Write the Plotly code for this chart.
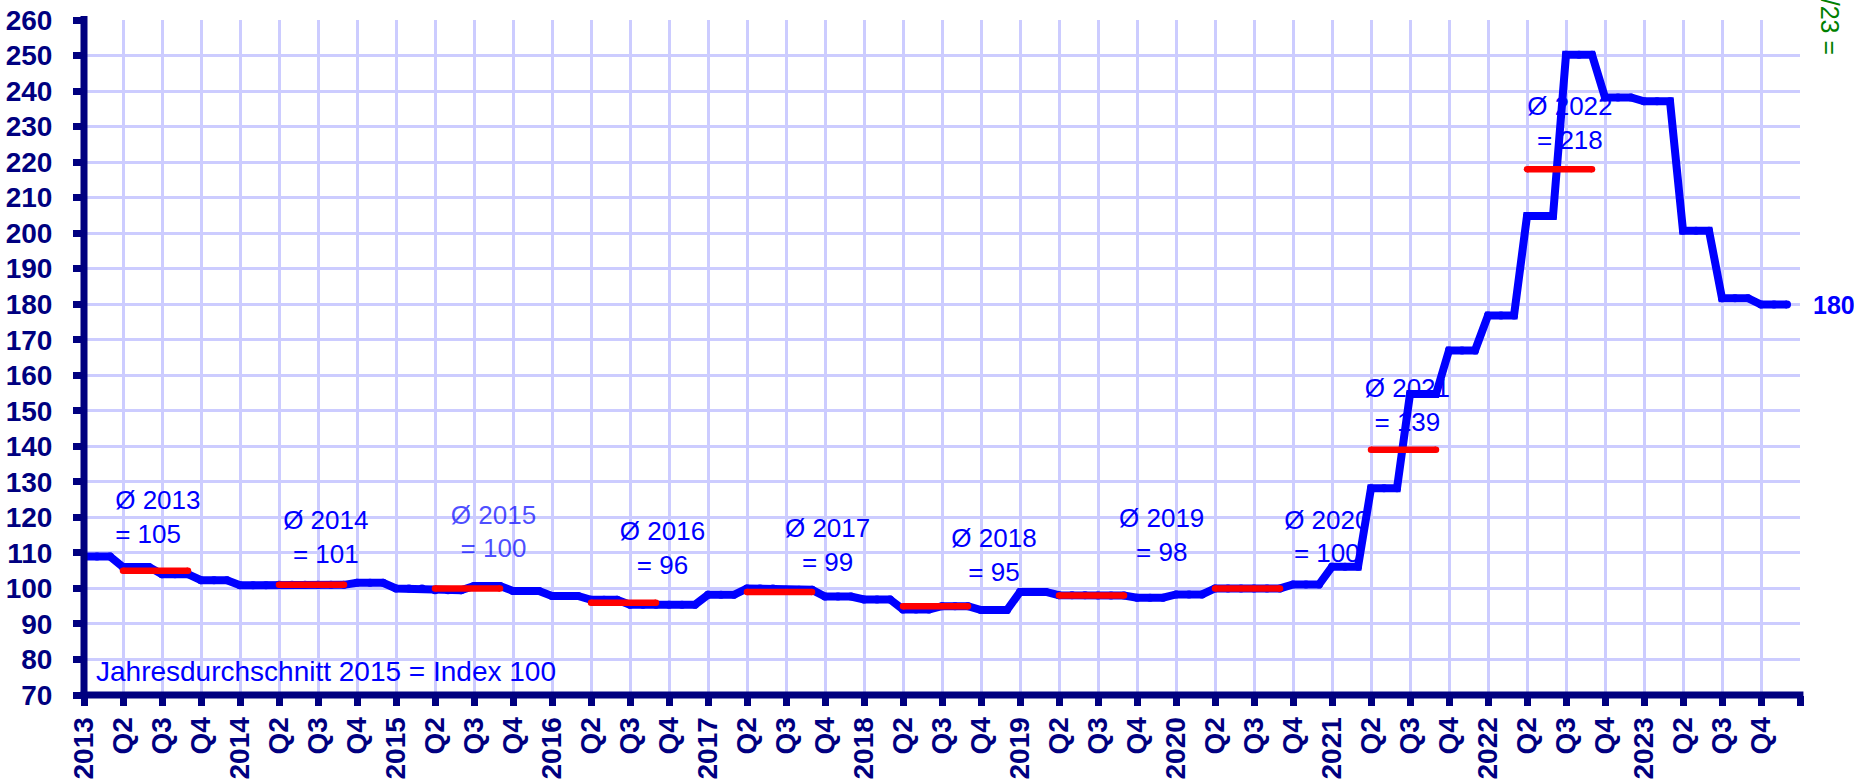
import plotly.graph_objects as go

# monthly index values, one row per year (Jan..Dec)
idx_2013 = [109, 109, 109, 106, 106, 106, 104, 104, 104, 102.3, 102.3, 102.3]
idx_2014 = [100.9, 100.9, 100.9, 101, 101, 101, 101, 101, 101, 101.6, 101.6, 101.6]
idx_2015 = [100, 100, 100, 99.5, 99.5, 99.5, 100.7, 100.7, 100.7, 99.3, 99.3, 99.3]
idx_2016 = [97.9, 97.9, 97.9, 96.8, 96.8, 96.8, 95.4, 95.4, 95.4, 95.4, 95.4, 95.4]
idx_2017 = [98.2, 98.2, 98.2, 100, 100, 100, 99.6, 99.6, 99.6, 97.7, 97.7, 97.7]
idx_2018 = [96.9, 96.9, 96.9, 94.1, 94.1, 94.1, 95, 95, 95, 93.9, 93.9, 93.9]
idx_2019 = [99, 99, 99, 98.1, 98.1, 98.1, 98, 98, 98, 97.4, 97.4, 97.4]
idx_2020 = [98.3, 98.3, 98.3, 100, 100, 100, 100, 100, 100, 101.1, 101.1, 101.1]
idx_2021 = [106.1, 106.1, 106.1, 128.2, 128.2, 128.2, 154.7, 154.7, 154.7, 167, 167, 167]
idx_2022 = [176.8, 176.8, 176.8, 204.8, 204.8, 204.8, 250.2, 250.2, 250.2, 238.2, 238.2, 238.2]
idx_2023 = [237.1, 237.1, 237.1, 200.7, 200.7, 200.7, 181.7, 181.7, 181.7, 179.9, 179.9, 179.9]

years = [2013, 2014, 2015, 2016, 2017, 2018, 2019, 2020, 2021, 2022, 2023]
monthly = (idx_2013 + idx_2014 + idx_2015 + idx_2016 + idx_2017 + idx_2018
           + idx_2019 + idx_2020 + idx_2021 + idx_2022 + idx_2023)

# annual averages (label values) for 2013..2022
avg_years = [2013, 2014, 2015, 2016, 2017, 2018, 2019, 2020, 2021, 2022]
avg_values = [105, 101, 100, 96, 99, 95, 98, 100, 139, 218]

# label positions (month index / index value)
label_x = [2.4, 18.6, 31.5, 44.5, 57.2, 70.0, 82.9, 95.6, 101.8, 114.3]
label_y = [119.4, 113.8, 115.3, 110.6, 111.6, 108.8, 114.4, 113.9, 151.0, 230.4]

tick_labels = []
for yr in years:
    tick_labels += [str(yr), "Q2", "Q3", "Q4"]
tick_labels.append("")

FONT = "Arial, Liberation Sans, sans-serif"
NAVY = "#000080"
BLUE = "#0000ff"

fig = go.Figure()

# average labels go first so the index line is drawn over them
for i, yr in enumerate(avg_years):
    txt = "Ø %d<br>= %d" % (yr, avg_values[i])
    fig.add_trace(go.Scatter(
        x=[label_x[i]], y=[label_y[i]],
        mode="text", text=[txt],
        textposition="middle right" if i == 0 else "middle center",
        textfont=dict(family=FONT, size=26,
                      color="rgba(0,0,255,0.7)" if yr == 2015 else BLUE),
        showlegend=False, hoverinfo="skip",
    ))

fig.add_trace(go.Scatter(
    x=list(range(len(monthly))), y=monthly,
    mode="lines+markers",
    line=dict(color=BLUE, width=8),
    marker=dict(color=BLUE, size=8),
    showlegend=False,
))

# red bars for the yearly average (Apr..Sep)
for i, yr in enumerate(avg_years):
    start = (yr - years[0]) * 12 + 3
    fig.add_trace(go.Scatter(
        x=[start, start + 5], y=[avg_values[i], avg_values[i]],
        mode="lines+markers",
        line=dict(color="#ff0000", width=6.5),
        marker=dict(color="#ff0000", size=6.5),
        showlegend=False,
    ))

fig.add_annotation(
    x=0.8, y=76.7, xref="x", yref="y", xanchor="left", yanchor="middle",
    text="Jahresdurchschnitt 2015 = Index 100", showarrow=False,
    font=dict(family=FONT, size=28, color=BLUE),
)
fig.add_annotation(
    x=1.0062, y=monthly[-1], xref="paper", yref="y", xanchor="left", yanchor="middle",
    text="<b>%d</b>" % round(monthly[-1]), showarrow=False,
    font=dict(family=FONT, size=25, color=BLUE),
)
fig.add_annotation(
    x=1.0175, y=249.6, xref="paper", yref="y", xanchor="center", yanchor="bottom",
    text="Ø 01-12/23 =", textangle=90, showarrow=False,
    font=dict(family=FONT, size=25, color="#008000"),
)

# thick navy axis lines centred on the plot edges
fig.add_shape(type="line", xref="paper", yref="paper", x0=0, x1=0, y0=-0.006, y1=1.006,
              line=dict(color=NAVY, width=7), layer="above")
fig.add_shape(type="line", xref="paper", yref="paper", x0=-0.002, x1=1.002, y0=0, y1=0,
              line=dict(color=NAVY, width=7), layer="above")

fig.update_layout(
    width=1854, height=783,
    margin=dict(l=84, r=54, t=20, b=88),
    plot_bgcolor="white", paper_bgcolor="white",
    font=dict(family=FONT),
    xaxis=dict(
        range=[0, 132],
        tickmode="array",
        tickvals=list(range(0, 133, 3)),
        ticktext=tick_labels,
        tickangle=-90,
        tickfont=dict(family=FONT, size=28, color=NAVY, weight="bold"),
        showgrid=True, gridcolor="#ccccff", gridwidth=2.5,
        showline=False, automargin=False,
        ticks="outside", ticklen=10, tickwidth=7, tickcolor=NAVY,
        ticklabelstandoff=0,
        zeroline=False,
    ),
    yaxis=dict(
        range=[70, 260],
        tickmode="linear", tick0=70, dtick=10,
        tickfont=dict(family=FONT, size=28, color=NAVY, weight="bold"),
        showgrid=True, gridcolor="#ccccff", gridwidth=2.5,
        showline=False, automargin=False,
        ticks="outside", ticklen=10, tickwidth=7, tickcolor=NAVY,
        ticklabelstandoff=15,
        zeroline=False,
    ),
)

fig.write_html("out.html", config={"displayModeBar": False},
               post_script="document.body.style.margin='0';document.body.style.overflow='hidden';")
